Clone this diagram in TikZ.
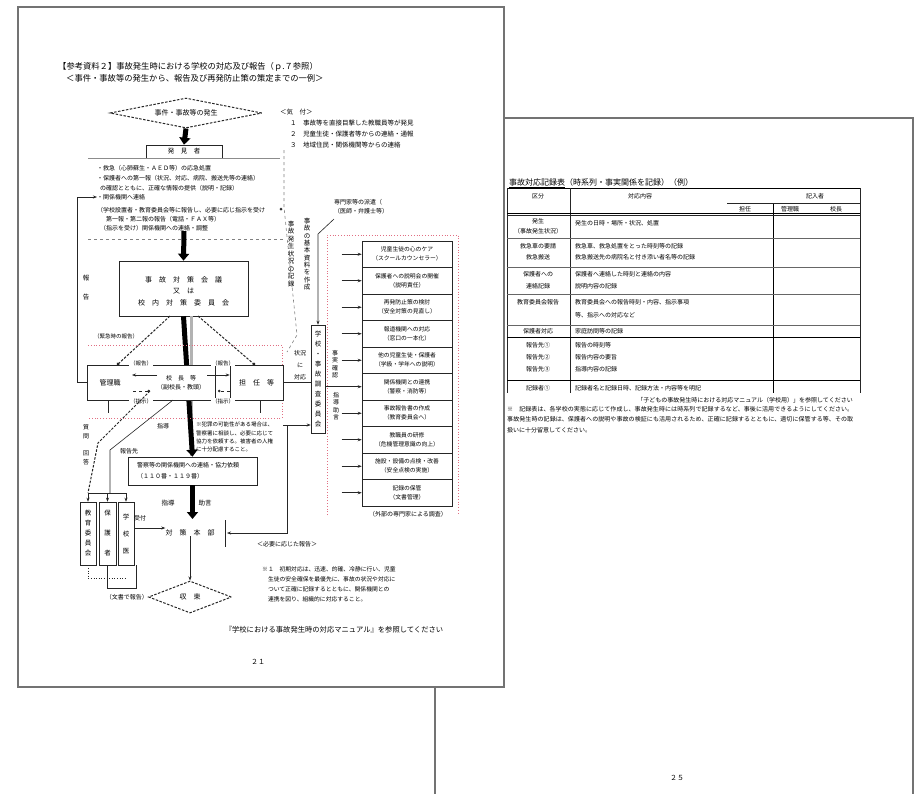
\documentclass[tikz,border=0pt]{standalone}
\usepackage{fontspec}
\newfontfamily\jp{Noto Sans CJK JP}
\usetikzlibrary{arrows.meta,shapes.geometric}
\XeTeXlinebreaklocale "ja"
\XeTeXlinebreakskip=0pt plus 1pt
\newcommand\jfs[2]{\fontsize{#1}{#2}\selectfont}
\definecolor{pk}{RGB}{225,110,130}
\begin{document}
\begin{tikzpicture}[x=1pt,y=-1pt,
  pg/.style={draw=black!55,line width=1.6pt},
  tx/.style={font=\jp\jfs{6}{7.5},inner sep=0pt,text=black},
  vt/.style={tx,align=center},
  bx/.style={draw=black!85,line width=0.6pt},
  big/.style={line width=5pt,-{Triangle[width=11pt,length=7pt]}},
  thin/.style={draw=black!85,line width=0.6pt},
  pink/.style={draw=pk,dotted,line width=0.8pt},
  gdash/.style={draw=black!50,dashed,line width=0.6pt},
  dk/.style={draw=black!85,line width=1pt,dash pattern=on 2.5pt off 1.5pt},
  tip/.style={-{Stealth[length=4pt,width=3pt]}},
  lab/.style={tx,font=\jp\jfs{5.5}{6},fill=white,inner sep=0.6pt}]
\useasboundingbox (0,0) rectangle (917,793);
\fill[white] (0,0) rectangle (917,793);

% ---------- right page (behind) ----------
\draw[pg] (435,800) -- (435,118) -- (913,118) -- (913,800);
\node[tx,anchor=west,font=\jp\jfs{8}{8.5}] (rt) at (509,183) {\underline{事故対応記録表}（時系列・事実関係を記録）（例）};
% table lines
\draw[line width=1pt] (507,188) -- (860,188);
\draw[thin] (507,188) -- (507,393) (570,188) -- (570,393) (860,188) -- (860,393);
\draw[line width=1pt] (773,203) -- (773,393);
\draw[thin] (727,203) -- (860,203);
\draw[line width=1pt] (507,213) -- (860,213);
\draw[thin] (507,215.5) -- (860,215.5);
\foreach \yy in {238,267,294,325} \draw[thin,draw=black!60] (507,\yy) -- (860,\yy);
\foreach \yy in {337,380} \draw[line width=1pt] (507,\yy) -- (860,\yy);
% header
\node[tx] (hq1) at (538,196) {区分};
\node[tx] (hq2) at (640,196) {対応内容};
\node[tx] (hq3) at (815,196) {記入者};
\node[tx] (hs1) at (745,209) {担任};
\node[tx] (hs2) at (790,209) {管理職};
\node[tx] (hs3) at (836,209) {校長};
% rows
\node[tx] (ra1) at (538,221) {発生};
\node[tx] (ra2) at (538,231) {（事故発生状況）};
\node[tx,anchor=west] (rb1) at (575,223) {発生の日時・場所・状況、処置};
\node[tx] (ra3) at (538,246) {救急車の要請};
\node[tx] (ra4) at (538,257) {救急搬送};
\node[tx,anchor=west] (rb2) at (575,246) {救急車、救急処置をとった時刻等の記録};
\node[tx,anchor=west] (rb3) at (575,257) {救急搬送先の病院名と付き添い者名等の記録};
\node[tx] (ra5) at (538,274) {保護者への};
\node[tx] (ra6) at (538,286) {連絡記録};
\node[tx,anchor=west] (rb4) at (575,274) {保護者へ連絡した時刻と連絡の内容};
\node[tx,anchor=west] (rb5) at (575,286) {説明内容の記録};
\node[tx] (ra7) at (538,302) {教育委員会報告};
\node[tx,anchor=west] (rb6) at (575,302) {教育委員会への報告時刻・内容、指示事項};
\node[tx,anchor=west] (rb7) at (575,315) {等、指示への対応など};
\node[tx] (ra8) at (538,331) {保護者対応};
\node[tx,anchor=west] (rb8) at (575,331) {家庭訪問等の記録};
\node[tx] (ra9) at (538,345) {報告先①};
\node[tx] (ra10) at (538,357) {報告先②};
\node[tx] (ra11) at (538,369) {報告先③};
\node[tx,anchor=west] (rb9) at (575,345) {報告の時刻等};
\node[tx,anchor=west] (rb10) at (575,357) {報告内容の要旨};
\node[tx,anchor=west] (rb11) at (575,369) {指導内容の記録};
\node[tx] (ra12) at (538,388) {記録者①};
\node[tx,anchor=west] (rb12) at (575,388) {記録者名と記録日時、記録方法・内容等を明記};
% notes
\node[tx,anchor=east] (rn1) at (853,400) {「子どもの事故発生時における対応マニュアル（学校用）」を参照してください};
\node[tx,anchor=north west,text width=346pt,align=justify,font=\jp\jfs{6}{10.5}] (rn2) at (507,406) {※　記録表は、各学校の実態に応じて作成し、事故発生時には時系列で記録するなど、事後に活用できるようにしてください。事故発生時の記録は、保護者への説明や事故の検証にも活用されるため、正確に記録するとともに、適切に保管する等、その取扱いに十分留意してください。};
\node[tx,font=\jp\jfs{7}{8}] (pn2) at (677,778) {２５};

% ---------- left page (front) ----------
\draw[pg,fill=white] (18,7) rectangle (504,687);
\node[tx,anchor=west,font=\jp\jfs{8.3}{9}] (h1) at (58,67) {【参考資料２】事故発生時における学校の対応及び報告（ｐ.７参照）};
\node[tx,anchor=west,font=\jp\jfs{8.3}{9}] (h2) at (66,78) {＜事件・事故等の発生から、報告及び再発防止策の策定までの一例＞};

\node[draw,dk,diamond,shape aspect=5,minimum width=152pt,minimum height=30pt,tx,font=\jp\jfs{7}{8}] (d1) at (186,113) {事件・事故等の発生};
\node[tx,anchor=west,font=\jp\jfs{6.5}{7}] (kz) at (280,112) {＜気　付＞};
\node[tx,anchor=west,font=\jp\jfs{6.5}{7}] (kz1) at (290,123) {１　事故等を直接目撃した教職員等が発見};
\node[tx,anchor=west,font=\jp\jfs{6.5}{7}] (kz2) at (290,134) {２　児童生徒・保護者等からの連絡・通報};
\node[tx,anchor=west,font=\jp\jfs{6.5}{7}] (kz3) at (290,145) {３　地域住民・関係機関等からの連絡};

\node[bx,minimum width=76pt,minimum height=13pt,tx,font=\jp\jfs{6.5}{7}] (hk) at (184,151.5) {発　見　者};
\draw[big] (d1.south) -- (hk.north);
\draw[draw=black!45,line width=0.6pt] (88,158) -- (280,158);

\node[tx,anchor=west] (t1) at (97,168) {・救急（心肺蘇生・ＡＥＤ等）の応急処置};
\node[tx,anchor=west] (t2) at (97,178) {・保護者への第一報（状況、対応、病院、搬送先等の連絡）};
\node[tx,anchor=west] (t3) at (100,188) {の確認とともに、正確な情報の提供（説明・記録）};
\node[tx,anchor=west] (t4) at (97,197) {・関係機関へ連絡};
\node[tx,anchor=west] (t5) at (97,210) {（学校設置者・教育委員会等に報告し、必要に応じ指示を受け};
\node[tx,anchor=west] (t6) at (106,219) {第一報・第二報の報告（電話・ＦＡＸ等）};
\node[tx,anchor=west] (t7) at (100,228) {（指示を受け）関係機関への連絡・調整};
\fill[black!80] (281,209) circle (1.5pt);
\draw[gdash] (88,239) -- (285,239);
\draw[gdash] (284,150) -- (284,207) -- (297,335) -- (287,352);

\node[vt,font=\jp\jfs{6.5}{7.5}] (v1) at (291,254) {事\\故\\発\\生\\状\\況\\の\\記\\録};
\node[vt,font=\jp\jfs{6.5}{7.3}] (v2) at (307,254) {事\\故\\の\\基\\本\\資\\料\\を\\作\\成};

% big box
\node[bx,fill=white,minimum width=129pt,minimum height=55pt] (bb) at (183.5,288.5) {};
\node[tx,align=center,font=\jp\jfs{7}{11.5}] (bbt) at (183.5,291) {事　故　対　策　会　議\\又　は\\校　内　対　策　委　員　会};
\coordinate (c1) at (184,231);
\draw[big] (c1) -- (bb.north);
\node[tx,font=\jp\jfs{6.5}{7}] (rk1) at (86,278) {報};
\node[tx,font=\jp\jfs{6.5}{7}] (rk2) at (86,297) {告};

% police box (target of main arrow)
\node[bx,fill=white,minimum width=129pt,minimum height=28pt] (P) at (192.5,471) {};
\draw[black!30,line width=3pt] (191.5,316) -- (191.5,456);
\draw[big] (bb.south) -- (P.north);
\node[tx,anchor=west,align=left,font=\jp\jfs{6}{11}] (Pt) at (137,471) {警察等の関係機関への連絡・協力依頼\\（１１０番・１１９番）};

% pink area middle
\draw[pink] (88,345) -- (282,345) -- (282,418) -- (88,418);
\node[lab] (kin) at (116,336) {（緊急時の報告）};
\draw[dk,-{Circle[length=3pt]}] (170,316) -- (117,365);
\draw[dk,-{Circle[length=3pt]}] (198,316) -- (255,365);

% middle row
\node[bx,fill=white,minimum width=128pt,minimum height=35pt] (mid) at (151,382.5) {};
\node[tx,font=\jp\jfs{7}{8}] (kanri) at (110,383) {管理職};
\node[tx,align=center,font=\jp\jfs{6}{9}] (kocho) at (181,383) {校　長　等\\（副校長・教頭）};
\node[bx,fill=white,minimum width=53pt,minimum height=35pt,tx,font=\jp\jfs{7}{8}] (tan) at (256.5,382.5) {担　任　等};
\draw[thin,tip] (157,375) -- (132,375);
\draw[thin,tip] (207,375) -- (tan.west |- 0,375);
\draw[thin,dashed,-{Circle[length=2.5pt]}] (133,391) -- (150,391);
\draw[thin,dashed,-{Circle[length=2.5pt]}] (tan.west |- 0,391) -- (218,391);
\node[lab] (hk1) at (141,363) {（報告）};
\node[lab] (hk2) at (223,363) {（報告）};
\node[lab] (sj1) at (141,401) {（指示）};
\node[lab] (sj2) at (223,401) {（指示）};
\draw[thin] (108,400) -- (108,413) (260,400) -- (260,413);
% left loop
\draw[thin,tip] (mid.west) -- (77,382.5) -- (77,197) -- (t4.west);

% narrow box and right column
\node[bx,minimum width=14pt,minimum height=108pt,vt,font=\jp\jfs{6.5}{10}] (N) at (318,379) {学\\校\\・\\事\\故\\調\\査\\委\\員\\会};
\draw[thin] (tan.east) -- (tan.east -| N.west);
\node[tx,align=center,font=\jp\jfs{6}{12}] (shn) at (300,365) {状況\\に\\対応};
\node[tx,anchor=west,align=left,font=\jp\jfs{6}{9}] (sp) at (334,207) {専門家等の派遣（\\（医師・弁護士等）};
\coordinate (spc) at (334,219);
\draw[thin,tip] (spc) -- (318,234) -- (N.north);
\draw[pink] (327,515) -- (327,235) -- (458,235) -- (458,515);
\foreach \i/\a/\b in {1/{児童生徒の心のケア}/{（スクールカウンセラー）},
  2/{保護者への説明会の開催}/{（説明責任）},
  3/{再発防止策の検討}/{（安全対策の見直し）},
  4/{報道機関への対応}/{（窓口の一本化）},
  5/{他の児童生徒・保護者}/{（学級・学年への説明）},
  6/{関係機関との連携}/{（警察・消防等）},
  7/{事故報告書の作成}/{（教育委員会へ）},
  8/{教職員の研修}/{（危機管理意識の向上）},
  9/{施設・設備の点検・改善}/{（安全点検の実施）},
  10/{記録の保管}/{（文書管理）}}
  \node[bx,fill=white,minimum width=90pt,minimum height=26.5pt,tx,align=center,font=\jp\jfs{5.8}{9}] (L\i) at (407,{254.25+26.5*(\i-1)}) {\a\\\b};
\foreach \i in {1,2,3,4,5,7,8,9,10}
  \draw[thin,tip] ([xshift=-20pt]L\i.west) -- (L\i.west);
\draw[thin,tip] (N.east |- L6.west) -- (L6.west);
\node[vt,font=\jp\jfs{6}{7.5}] (vr1) at (335,364) {事\\実\\確\\認};
\node[vt,font=\jp\jfs{6}{7.5}] (vr2) at (336,406) {指\\導\\助\\言};
\node[tx] (cap) at (408,514) {（外部の専門家による調査）};

% notes right of main arrow
\node[tx,font=\jp\jfs{6}{7}] (sd1) at (163,426) {指導};
\node[tx,anchor=north west,align=left,font=\jp\jfs{5.5}{8.3}] (nb) at (196,422) {※犯罪の可能性がある場合は、\\警察署に相談し、必要に応じて\\協力を依頼する。被害者の人権\\に十分配慮すること。};
\coordinate (r1) at (283,425);
\draw[thin,tip] (r1) -- (r1 -| N.west);

% bottom part
\node[tx,font=\jp\jfs{6.5}{7}] (sd2) at (168,503) {指導};
\node[tx,font=\jp\jfs{6.5}{7}] (jg) at (205,503) {助言};
\node[tx,font=\jp\jfs{7}{8}] (hq) at (190,533) {対　策　本　部};
\draw[big] (P.south) -- (192.5,519);
\draw[thin] (225,520) -- (225,547);
\coordinate (r2) at (287,425);
\draw[thin,tip] (r2) -- (287,533) -- (227,533);
\node[tx] (hsk) at (287,544) {＜必要に応じた報告＞};
\node[draw,dk,diamond,shape aspect=2.6,minimum width=83pt,minimum height=32pt,tx,font=\jp\jfs{7}{8}] (d2) at (190,597) {収　束};
\draw[thin,tip] (hq.south) -- (d2.north);

% left columns
\node[bx,minimum width=16pt,minimum height=63pt,vt,font=\jp\jfs{6.5}{10}] (k1) at (88,533.5) {教\\育\\委\\員\\会};
\node[bx,minimum width=17pt,minimum height=63pt,vt,font=\jp\jfs{6.5}{20}] (k2) at (107.5,533.5) {保\\護\\者};
\node[bx,minimum width=16pt,minimum height=63pt,vt,font=\jp\jfs{6.5}{17}] (k3) at (126,533.5) {学\\校\\医};
\draw[thin] (88,493) -- (126,493);
\foreach \k in {k1,k2,k3} \draw[thin,tip] (\k.north |- 0,493) -- (\k.north);
\draw[dk] (150,391) -- (98,443) -- (88,493);
\node[vt,font=\jp\jfs{6}{9}] (sm) at (86,432) {質\\問};
\node[vt,font=\jp\jfs{6}{9}] (kt) at (86,458) {回\\答};
\draw[thin] (173,400) -- (110,450) -- (110,493);
\node[tx] (hks) at (129,451) {報告先};
\node[tx] (uk) at (140,518) {受付};
\draw[thin,tip] (k3.east |- 0,528) -- (hq.west |- 0,528);
\draw[thin,dotted] (k1.south) -- (88,578) -- (125,578);
\draw[thin] (k2.south) -- (107.5,588) -- (136,588) -- (136,565);
\node[tx,anchor=east] (bun) at (148,597) {（文書で報告）};

% notes
\node[tx,anchor=north west,align=left,font=\jp\jfs{5.8}{10}] (nt) at (262,566) {※１　初期対応は、迅速、的確、冷静に行い、児童\\　生徒の安全確保を最優先に、事故の状況や対応に\\　ついて正確に記録するとともに、関係機関との\\　連携を図り、組織的に対応すること。};
\node[tx,font=\jp\jfs{7.3}{8}] (man) at (334,630) {『学校における事故発生時の対応マニュアル』を参照してください};
\node[tx,font=\jp\jfs{7}{8}] (pn1) at (258,662) {２１};
\end{tikzpicture}
\end{document}
